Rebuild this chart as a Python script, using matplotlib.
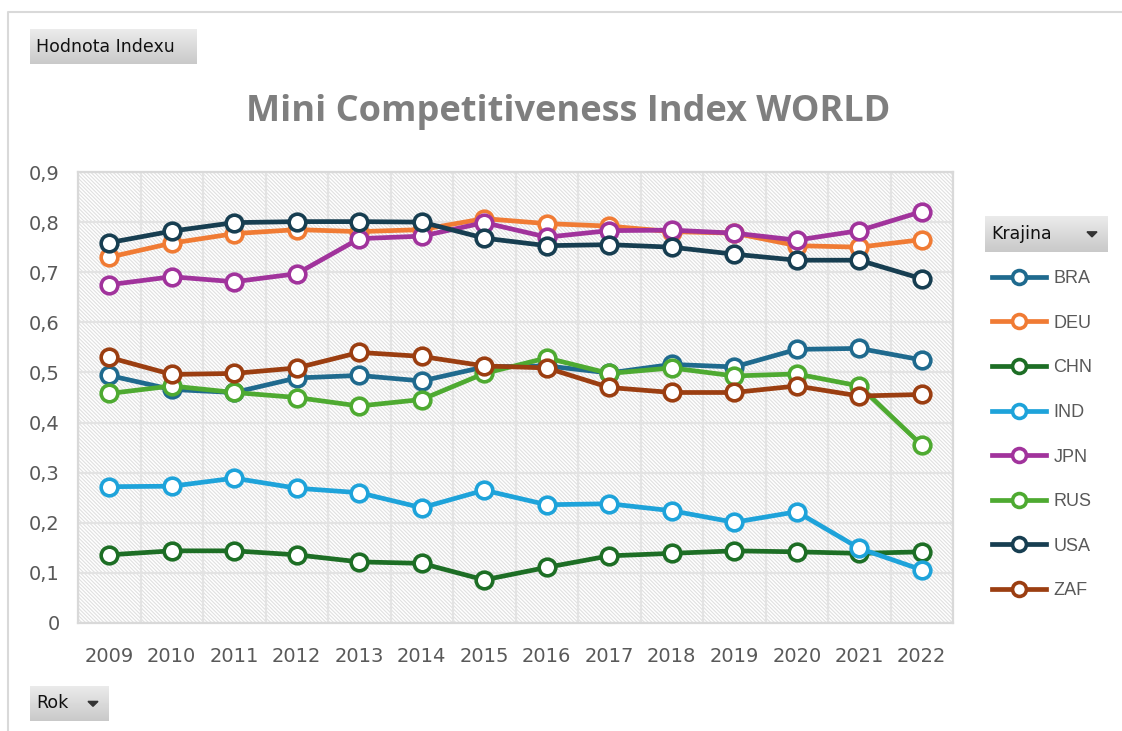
import matplotlib
matplotlib.use("Agg")
import matplotlib.pyplot as plt
import numpy as np
from matplotlib.patches import Rectangle, Polygon
from matplotlib.lines import Line2D
from matplotlib.colors import LinearSegmentedColormap
from matplotlib.ticker import FuncFormatter, MultipleLocator

# ---- data -------------------------------------------------------------
years = ["2009", "2010", "2011", "2012", "2013", "2014", "2015",
         "2016", "2017", "2018", "2019", "2020", "2021", "2022"]

countries = ["BRA", "DEU", "CHN", "IND", "JPN", "RUS", "USA", "ZAF"]

bra = [0.494, 0.466, 0.460, 0.489, 0.494, 0.483, 0.511, 0.513, 0.499, 0.516, 0.511, 0.546, 0.548, 0.525]
deu = [0.730, 0.758, 0.777, 0.785, 0.781, 0.785, 0.807, 0.797, 0.792, 0.781, 0.778, 0.753, 0.750, 0.765]
chn = [0.136, 0.144, 0.144, 0.136, 0.122, 0.119, 0.086, 0.111, 0.134, 0.139, 0.144, 0.142, 0.139, 0.142]
ind = [0.272, 0.273, 0.289, 0.269, 0.260, 0.230, 0.265, 0.236, 0.238, 0.224, 0.201, 0.222, 0.149, 0.106]
jpn = [0.675, 0.691, 0.681, 0.697, 0.767, 0.772, 0.799, 0.770, 0.783, 0.784, 0.778, 0.764, 0.783, 0.821]
rus = [0.458, 0.473, 0.460, 0.450, 0.433, 0.446, 0.498, 0.529, 0.498, 0.509, 0.493, 0.497, 0.473, 0.355]
usa = [0.759, 0.782, 0.799, 0.801, 0.801, 0.800, 0.768, 0.753, 0.755, 0.750, 0.736, 0.724, 0.724, 0.687]
zaf = [0.530, 0.496, 0.498, 0.509, 0.540, 0.532, 0.513, 0.509, 0.470, 0.460, 0.460, 0.473, 0.453, 0.456]

series = [bra, deu, chn, ind, jpn, rus, usa, zaf]
colors = ["#1f6a8e", "#f07b34", "#1d6e25", "#1ea3da", "#a1339c", "#4eaa31", "#173e51", "#9b3e11"]

title = "Mini Competitiveness Index WORLD"

# ---- figure ------------------------------------------------------------
plt.rcParams["hatch.linewidth"] = 0.8

W, H = 1122, 731
fig = plt.figure(figsize=(W / 100, H / 100), dpi=100)
fig.patch.set_facecolor("white")


def fx(px):
    return px / W


def fy(py):
    return 1 - py / H


# outer chart frame (top and left edges)
fig.add_artist(Line2D([fx(8), fx(8), 1.0], [0.0, fy(12), fy(12)],
                      transform=fig.transFigure, color="#d9d9d9", lw=1.5))

ax = fig.add_axes([fx(78), fy(623), fx(953) - fx(78), fy(172) - fy(623)])
ax.set_facecolor("white")

x = np.arange(len(years))
ax.set_xlim(-0.5, len(years) - 0.5)
ax.set_ylim(0, 0.9)

# hatched plot background
bg = Rectangle((0, 0), 1, 1, transform=ax.transAxes, facecolor="white",
               edgecolor="#e0e0e0", hatch="\\" * 9, lw=0, zorder=0)
ax.add_patch(bg)

ax.yaxis.set_major_locator(MultipleLocator(0.1))
ax.set_xticks(x)
ax.set_xticks(np.arange(-0.5, len(years), 0.5), minor=True)
ax.set_xticklabels(years)
ax.grid(True, which="major", axis="y", color="#e3e3e3", lw=1.6, zorder=1)
ax.grid(True, which="minor", axis="x", color="#e3e3e3", lw=1.6, zorder=1)
ax.set_axisbelow(True)

for s in ax.spines.values():
    s.set_color("#d9d9d9")
    s.set_linewidth(1.6)

ax.yaxis.set_major_formatter(FuncFormatter(
    lambda v, p: "0" if abs(v) < 1e-9 else f"{v:.1f}".replace(".", ",")))
ax.tick_params(axis="both", which="both", length=0)
ax.tick_params(axis="y", pad=13, labelsize=14, labelcolor="#595959")
ax.tick_params(axis="x", pad=17.5, labelsize=14, labelcolor="#595959")
for lab in ax.get_xticklabels() + ax.get_yticklabels():
    lab.set_fontfamily("DejaVu Sans")

handles = []
for name, vals, c in zip(countries, series, colors):
    h, = ax.plot(x, vals, color=c, lw=3.4, marker="o", markersize=12,
                 markerfacecolor="white", markeredgecolor=c,
                 markeredgewidth=2.6, label=name, zorder=3,
                 solid_joinstyle="round")
    handles.append(h)

fig.text(0.506, fy(112), title, ha="center", va="center",
         fontsize=26, fontweight="bold", color="#7f7f7f", family="Open Sans")

leg_handles = [Line2D([], [], color=c, lw=3.4, marker="o", markersize=10,
                      markerfacecolor="white", markeredgecolor=c,
                      markeredgewidth=2.6) for c in colors]
leg = fig.legend(handles=leg_handles, labels=countries, loc="upper left",
                 bbox_to_anchor=(fx(992), fy(270)), frameon=False,
                 handlelength=3.0, handletextpad=0.4, labelspacing=1.53,
                 prop={"family": "Liberation Sans", "size": 13},
                 borderaxespad=0, borderpad=0)
for t in leg.get_texts():
    t.set_color("#595959")


def button(x0, y0, x1, y1, label, arrow):
    bax = fig.add_axes([fx(x0), fy(y1), fx(x1) - fx(x0), fy(y0) - fy(y1)])
    grad = np.linspace(0, 1, 64).reshape(-1, 1)
    cmap = LinearSegmentedColormap.from_list("btn", ["#ececec", "#c9c9c9"])
    bax.imshow(grad, aspect="auto", cmap=cmap, extent=[0, 1, 0, 1],
               origin="upper")
    bax.set_xlim(0, 1)
    bax.set_ylim(0, 1)
    bax.axis("off")
    wpx = x1 - x0
    bax.text(6 / wpx, 0.5, label, ha="left", va="center", fontsize=12.5,
             color="#111111", family="DejaVu Sans")
    if arrow:
        cx = 1 - 16 / wpx
        hw = 5 / wpx
        bax.add_patch(Polygon([[cx - hw, 0.56], [cx + hw, 0.56], [cx, 0.42]],
                              closed=True, color="#333333"))


button(30, 29, 197, 64, "Hodnota Indexu", False)
button(985, 216, 1108, 252, "Krajina", True)
button(30, 686, 109, 721, "Rok", True)

fig.savefig("out.png", dpi=100, facecolor="white")
